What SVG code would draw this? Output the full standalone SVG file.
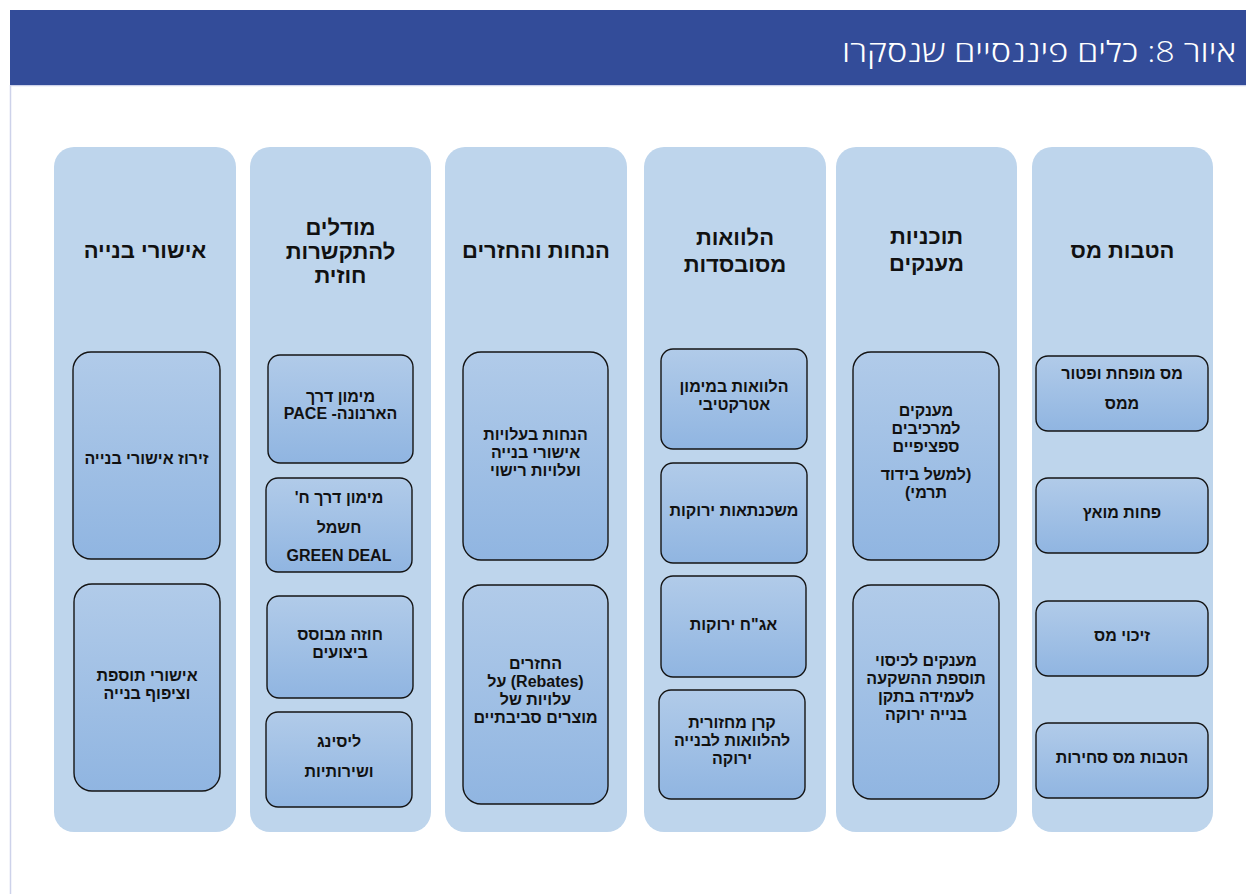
<svg xmlns="http://www.w3.org/2000/svg" width="1246" height="894" viewBox="0 0 1246 894">
  <style>
    .page { fill: #ffffff; }
    .frame { fill: none; stroke: #cdd2ea; stroke-width: 1.5; }
    .band { fill: #334c99; }
    .heading { font-family: "Open Sans", "DejaVu Sans", sans-serif; font-weight: 300; font-size: 29px; fill: #ffffff; direction: rtl; text-anchor: start; }
    .col { fill: #bed5ec; }
    .box { fill: url(#boxFill); stroke: #141414; stroke-width: 1.4; }
    .ct { font-family: "Liberation Sans", Arial, "DejaVu Sans", sans-serif; font-weight: bold; font-size: 22px; fill: #111111; direction: rtl; text-anchor: middle; }
    .bt { font-family: "Liberation Sans", Arial, "DejaVu Sans", sans-serif; font-weight: bold; font-size: 16px; fill: #111111; direction: rtl; text-anchor: middle; }
  </style>
  <defs>
    <linearGradient id="boxFill" x1="0" y1="0" x2="0" y2="1">
      <stop offset="0" stop-color="#b1cbe9"/>
      <stop offset="1" stop-color="#90b5e1"/>
    </linearGradient>
  </defs>

  <rect class="page" x="0" y="0" width="1246" height="894"/>
  <line class="frame" x1="10.5" y1="85" x2="10.5" y2="894"/>
  <line class="frame" x1="10" y1="85.5" x2="1246" y2="85.5"/>

  <!-- header band -->
  <g id="header">
    <rect class="band" x="10" y="10" width="1236" height="75"/>
    <text class="heading" x="1236" y="62" textLength="394" lengthAdjust="spacingAndGlyphs">איור 8: כלים פיננסיים שנסקרו</text>
  </g>

  <!-- column: tax benefits -->
  <g id="col-tax">
    <rect class="col" x="1032" y="147" width="181" height="685" rx="20"/>
    <text class="ct" x="1122.5" y="258">הטבות מס</text>
  </g>
  <g id="tax-reduced">
    <rect class="box" x="1036" y="356" width="172" height="75" rx="12"/>
    <text class="bt" x="1122" y="379">מס מופחת ופטור</text>
    <text class="bt" x="1122" y="409">ממס</text>
  </g>
  <g id="tax-depreciation">
    <rect class="box" x="1036" y="478" width="172" height="75" rx="12"/>
    <text class="bt" x="1122" y="518">פחות מואץ</text>
  </g>
  <g id="tax-credit">
    <rect class="box" x="1036" y="601" width="172" height="75" rx="12"/>
    <text class="bt" x="1122" y="641">זיכוי מס</text>
  </g>
  <g id="tax-tradable">
    <rect class="box" x="1036" y="723" width="172" height="75" rx="12"/>
    <text class="bt" x="1122" y="763">הטבות מס סחירות</text>
  </g>

  <!-- column: grant programmes -->
  <g id="col-grants">
    <rect class="col" x="836" y="147" width="181" height="685" rx="20"/>
    <text class="ct" x="926.5" y="244">תוכניות</text>
    <text class="ct" x="926.5" y="271">מענקים</text>
  </g>
  <g id="grant-components">
    <rect class="box" x="853" y="352" width="146" height="208" rx="18"/>
    <text class="bt" x="926" y="416">מענקים</text>
    <text class="bt" x="926" y="434">למרכיבים</text>
    <text class="bt" x="926" y="452">ספציפיים</text>
    <text class="bt" x="926" y="480">(למשל בידוד</text>
    <text class="bt" x="926" y="498">תרמי)</text>
  </g>
  <g id="grant-extra-cost">
    <rect class="box" x="853" y="585" width="146" height="214" rx="18"/>
    <text class="bt" x="926" y="666">מענקים לכיסוי</text>
    <text class="bt" x="926" y="684">תוספת ההשקעה</text>
    <text class="bt" x="926" y="702">לעמידה בתקן</text>
    <text class="bt" x="926" y="720">בנייה ירוקה</text>
  </g>

  <!-- column: subsidised loans -->
  <g id="col-loans">
    <rect class="col" x="644" y="147" width="182" height="685" rx="20"/>
    <text class="ct" x="735" y="245">הלוואות</text>
    <text class="ct" x="735" y="272">מסובסדות</text>
  </g>
  <g id="loan-attractive">
    <rect class="box" x="661" y="349" width="146" height="100" rx="12"/>
    <text class="bt" x="734" y="392">הלוואות במימון</text>
    <text class="bt" x="734" y="410">אטרקטיבי</text>
  </g>
  <g id="loan-mortgage">
    <rect class="box" x="661" y="463" width="146" height="100" rx="12"/>
    <text class="bt" x="734" y="516">משכנתאות ירוקות</text>
  </g>
  <g id="loan-bonds">
    <rect class="box" x="661" y="576" width="145" height="101" rx="12"/>
    <text class="bt" x="733.5" y="630">אג"ח ירוקות</text>
  </g>
  <g id="loan-revolving">
    <rect class="box" x="659" y="690" width="146" height="109" rx="12"/>
    <text class="bt" x="732" y="728">קרן מחזורית</text>
    <text class="bt" x="732" y="746">להלוואות לבנייה</text>
    <text class="bt" x="732" y="764">ירוקה</text>
  </g>

  <!-- column: discounts and rebates -->
  <g id="col-discounts">
    <rect class="col" x="445" y="147" width="182" height="685" rx="20"/>
    <text class="ct" x="536" y="258">הנחות והחזרים</text>
  </g>
  <g id="discount-fees">
    <rect class="box" x="463" y="352" width="145" height="208" rx="18"/>
    <text class="bt" x="535.5" y="440">הנחות בעלויות</text>
    <text class="bt" x="535.5" y="458">אישורי בנייה</text>
    <text class="bt" x="535.5" y="476">ועלויות רישוי</text>
  </g>
  <g id="discount-rebates">
    <rect class="box" x="463" y="585" width="145" height="219" rx="18"/>
    <text class="bt" x="535.5" y="669">החזרים</text>
    <text class="bt" x="535.5" y="687">(Rebates) על</text>
    <text class="bt" x="535.5" y="705">עלויות של</text>
    <text class="bt" x="535.5" y="723">מוצרים סביבתיים</text>
  </g>

  <!-- column: contracting models -->
  <g id="col-models">
    <rect class="col" x="250" y="147" width="181" height="685" rx="20"/>
    <text class="ct" x="340.5" y="235">מודלים</text>
    <text class="ct" x="340.5" y="259">להתקשרות</text>
    <text class="ct" x="340.5" y="283">חוזית</text>
  </g>
  <g id="model-pace">
    <rect class="box" x="268" y="355" width="145" height="108" rx="12"/>
    <text class="bt" x="340.5" y="402">מימון דרך</text>
    <text class="bt" x="340.5" y="419">הארנונה- PACE</text>
  </g>
  <g id="model-green-deal">
    <rect class="box" x="266" y="478" width="146" height="94" rx="12"/>
    <text class="bt" x="339" y="503">מימון דרך ח'</text>
    <text class="bt" x="339" y="533">חשמל</text>
    <text class="bt" x="339" y="561">GREEN DEAL</text>
  </g>
  <g id="model-performance">
    <rect class="box" x="267" y="596" width="146" height="102" rx="12"/>
    <text class="bt" x="340" y="640">חוזה מבוסס</text>
    <text class="bt" x="340" y="658">ביצועים</text>
  </g>
  <g id="model-leasing">
    <rect class="box" x="266" y="712" width="146" height="95" rx="12"/>
    <text class="bt" x="339" y="747">ליסינג</text>
    <text class="bt" x="339" y="777">ושירותיות</text>
  </g>

  <!-- column: building permits -->
  <g id="col-permits">
    <rect class="col" x="54" y="147" width="182" height="685" rx="20"/>
    <text class="ct" x="145" y="258">אישורי בנייה</text>
  </g>
  <g id="permit-fast">
    <rect class="box" x="73" y="352" width="147" height="207" rx="18"/>
    <text class="bt" x="146.5" y="464">זירוז אישורי בנייה</text>
  </g>
  <g id="permit-density">
    <rect class="box" x="74" y="584" width="146" height="207" rx="18"/>
    <text class="bt" x="147" y="681">אישורי תוספת</text>
    <text class="bt" x="147" y="699">וציפוף בנייה</text>
  </g>
</svg>
